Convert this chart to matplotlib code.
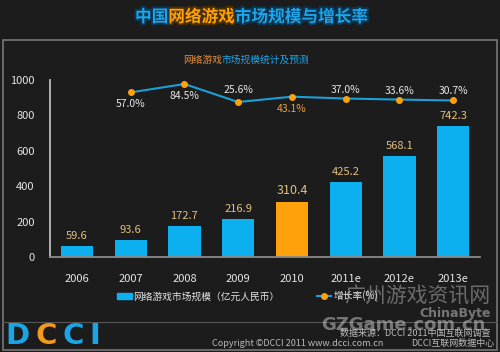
import matplotlib
matplotlib.use('Agg')
import matplotlib.pyplot as plt
import matplotlib.patheffects as pe
from matplotlib.patches import Patch, Rectangle
from matplotlib.lines import Line2D

plt.rcParams['font.family'] = ['Noto Sans CJK SC', 'DejaVu Sans']

years = ['2006', '2007', '2008', '2009', '2010', '2011e', '2012e', '2013e']
market = [59.6, 93.6, 172.7, 216.9, 310.4, 425.2, 568.1, 742.3]
growth_years = years[1:]
growth = [57.0, 84.5, 25.6, 43.1, 37.0, 33.6, 30.7]
y_ticks = [0, 200, 400, 600, 800, 1000]

bg = '#1c1c1c'
blue = '#0db0ee'
orange = '#ffa10a'
line_blue = '#1a9fd6'
tan = '#e2c07f'
light = '#e6e6e6'

fig = plt.figure(figsize=(5, 3.52), dpi=100, facecolor=bg)
ax = fig.add_axes([0.1, 1 - 257 / 352, 0.86, 177 / 352])
ax.set_facecolor(bg)


def chain(pieces, x0, y0, gap=0, **kw):
    # write coloured pieces one after another, left to right
    prev = None
    for txt, col, extra in pieces:
        opts = dict(kw, color=col, **extra)
        if prev is None:
            prev = fig.text(x0, y0, txt, va='center', ha='left', **opts)
        else:
            prev = ax.annotate(txt, xy=(1, 0.5), xycoords=prev, xytext=(gap, 0),
                               textcoords='offset pixels', va='center', ha='left',
                               annotation_clip=False, **opts)


# outer frame and separator
fig.add_artist(Rectangle((3 / 500, 2 / 352), 494 / 500, 310 / 352, transform=fig.transFigure,
                         fill=False, edgecolor='#777777', lw=1.2))
fig.add_artist(Line2D([3 / 500, 497 / 500], [1 - 322 / 352] * 2, transform=fig.transFigure,
                      color='#555555', lw=0.8))

# title
blue_glow = {'path_effects': [pe.withStroke(linewidth=3, foreground='#0b3550')]}
orange_glow = {'path_effects': [pe.withStroke(linewidth=3, foreground='#4a3000')]}
chain([('中国', '#1ea4e8', blue_glow), ('网络游戏', orange, orange_glow),
       ('市场规模与增长率', '#1ea4e8', blue_glow)],
      135 / 500, 1 - 17 / 352, fontsize=12, fontweight='bold')

# subtitle
chain([('网络游戏', '#e8903a', {}), ('市场规模统计及预测', '#1ea4e8', {})],
      183 / 500, 1 - 60 / 352, fontsize=7)

x = list(range(len(years)))
colors = [orange if y == '2010' else blue for y in years]
ax.bar(x, market, width=0.6, color=colors)
for xi, v, y in zip(x, market, years):
    ax.annotate(f'{v:.1f}', (xi, v), xytext=(0, 5), textcoords='offset pixels',
                ha='center', va='bottom', color=tan, fontsize=9 if y == '2010' else 8)

ax.set_xlim(-0.5, 7.5)
ax.set_ylim(0, 1000)
ax.set_yticks(y_ticks)
ax.set_xticks(x)
ax.set_xticklabels(years)
ax.tick_params(axis='both', length=0, colors=light, labelsize=8)
ax.tick_params(axis='x', pad=12)
ax.tick_params(axis='y', pad=11)
for s in ['top', 'right']:
    ax.spines[s].set_visible(False)
ax.spines['left'].set_color('#bbbbbb')
ax.spines['left'].set_linewidth(1.3)
ax.spines['bottom'].set_color('#8a8a8a')
ax.spines['bottom'].set_linewidth(1.3)

# growth rate on hidden secondary axis
ax2 = ax.twinx()
ax2.set_ylim(-481, 97.6)
ax2.axis('off')
gx = x[1:]
ax2.plot(gx, growth, color=line_blue, lw=1.5, marker='o', ms=4, mfc=orange, mec=orange)
above = {'25.6': 12, '37.0': 9, '33.6': 9, '30.7': 9}
for xi, g, y in zip(gx, growth, growth_years):
    off = above.get(f'{g:.1f}', -12)
    ax2.annotate(f'{g:.1f}%', (xi, g), xytext=(0, off), textcoords='offset pixels',
                 ha='center', va='center', fontsize=7.5,
                 color='#e8a040' if y == '2010' else light)

# legend
handles = [Patch(color=blue),
           Line2D([], [], color=line_blue, lw=1.5, marker='o', ms=4, mfc=orange, mec=orange)]
fig.legend(handles, ['网络游戏市场规模（亿元人民币）', '增长率(%)'], loc='center',
           bbox_to_anchor=(0.495, 1 - 296 / 352), ncol=2, frameon=False, fontsize=7,
           labelcolor=light, handlelength=1.5, handletextpad=0.2, columnspacing=3.8)

# watermark
fig.text(417 / 500, 1 - 297 / 352, '广州游戏资讯网', color='white', alpha=0.35, fontsize=15,
         ha='center', va='center')
fig.text(455 / 500, 1 - 313 / 352, 'ChinaByte', color='white', alpha=0.4, fontsize=9,
         fontweight='bold', ha='center', va='center', family='DejaVu Sans')
fig.text(403 / 500, 1 - 325 / 352, 'GZGame.com.cn', color='white', alpha=0.4, fontsize=13,
         fontweight='bold', ha='center', va='center', family='DejaVu Sans')

# footer
fig.text(415 / 500, 1 - 333 / 352, '数据来源：DCCI 2011中国互联网调查', color='#bbbbbb',
         fontsize=6.5, ha='center', va='center')
fig.text(298 / 500, 1 - 343 / 352, 'Copyright ©DCCI 2011 www.dcci.com.cn', color='#bbbbbb',
         fontsize=6.5, ha='center', va='center')
fig.text(453 / 500, 1 - 343 / 352, 'DCCI互联网数据中心', color='#bbbbbb',
         fontsize=6.5, ha='center', va='center')

# logo
chain([('D', '#1aa6e6', {}), ('C', '#f29a1e', {}), ('C', '#1aa6e6', {}), ('I', '#1aa6e6', {})],
      5 / 500, 1 - 336 / 352, gap=6, fontsize=21, fontweight='bold', family='DejaVu Sans')

fig.savefig('out.png', dpi=100, facecolor=bg)
